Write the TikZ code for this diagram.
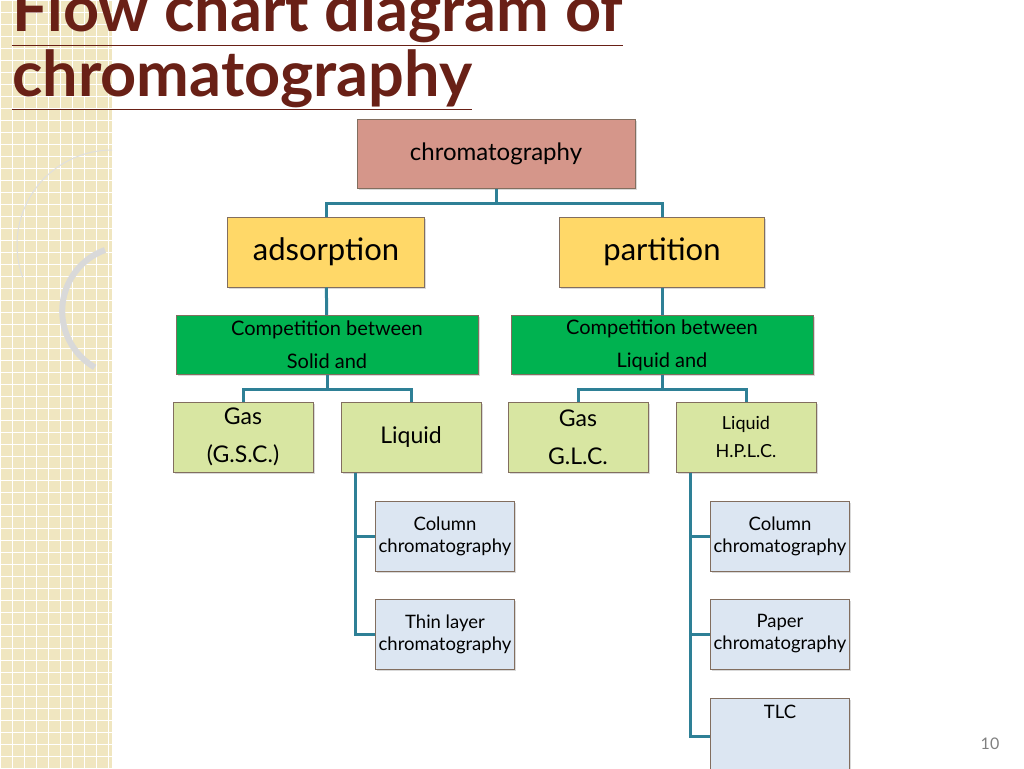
\documentclass[tikz,border=0pt]{standalone}
\usepackage{fontspec}
\setmainfont{Lato}
\usepackage{xcolor}
\definecolor{TitleRed}{RGB}{105, 32, 22}
\definecolor{RootPink}{RGB}{213, 150, 138}
\definecolor{TypeGold}{RGB}{255, 216, 104}
\definecolor{CompGreen}{RGB}{0, 178, 80}
\definecolor{PhaseLime}{RGB}{216, 230, 162}
\definecolor{MethodBlue}{RGB}{220, 230, 242}
\definecolor{LinkTeal}{RGB}{46, 128, 150}
\definecolor{StripBeige}{RGB}{240, 230, 192}
\definecolor{EdgeBrown}{RGB}{130, 110, 95}
\usetikzlibrary{positioning, shadows, calc}

\begin{document}
\begin{tikzpicture}[
        x=1pt, y=-1pt,
        box/.style={rectangle, draw=EdgeBrown, line width=1pt, inner sep=2pt, align=center, font=\fontsize{24}{30}\selectfont, drop shadow={shadow xshift=1.5pt, shadow yshift=-1.5pt, opacity=0.3}},
        link/.style={LinkTeal, line width=3pt}
    ]
        % Page and strip
        \useasboundingbox (0,0) rectangle (1024,768);
        \fill[StripBeige] (0,0) rectangle (112,768);
        \foreach \k in {0,12,...,768} {
            \draw[white, line width=0.6pt] (0,\k) -- (112,\k);
        }
        \foreach \k in {0,12,...,108} {
            \draw[white, line width=0.6pt] (\k,0) -- (\k,768);
        }
        \draw[gray!30, line width=6pt] (105,250) arc[start angle=250, end angle=120, radius=65];
        \draw[gray!25, line width=1pt] (112,150) arc[start angle=270, end angle=160, radius=95];

        % Title
        \node[anchor=base west, text=TitleRed, font=\fontsize{63}{70}\selectfont\bfseries, inner sep=0pt] (title1) at (12,32) {\underline{Flow chart diagram of}};
        \node[anchor=base west, text=TitleRed, font=\fontsize{63}{70}\selectfont\bfseries, inner sep=0pt] (title2) at (12,96) {\underline{chromatography}};

        % Nodes
        \node[box, fill=RootPink, minimum width=278pt, minimum height=69pt] (root) at (496,154) {chromatography};
        \node[box, fill=TypeGold, minimum width=197pt, minimum height=70pt, font=\fontsize{31}{36}\selectfont] (ads) at (326,252) {adsorption};
        \node[box, fill=TypeGold, minimum width=205pt, minimum height=70pt, font=\fontsize{31}{36}\selectfont] (part) at (662,252) {partition};
        \node[box, fill=CompGreen, minimum width=302pt, minimum height=59pt, font=\fontsize{20}{33}\selectfont] (compS) at (327,345) {Competition between\\Solid and};
        \node[box, fill=CompGreen, minimum width=302pt, minimum height=59pt, font=\fontsize{20}{33}\selectfont] (compL) at (662,345) {Competition between\\Liquid and};
        \node[box, fill=PhaseLime, minimum width=140pt, minimum height=70pt, font=\fontsize{23}{38}\selectfont] (gsc) at (243,437) {Gas\\(G.S.C.)};
        \node[box, fill=PhaseLime, minimum width=140pt, minimum height=70pt, font=\fontsize{23}{28}\selectfont] (liqS) at (411,437) {Liquid};
        \node[box, fill=PhaseLime, minimum width=140pt, minimum height=70pt, font=\fontsize{23}{38}\selectfont] (glc) at (578,437) {Gas\\G.L.C.};
        \node[box, fill=PhaseLime, minimum width=140pt, minimum height=70pt, font=\fontsize{18}{28}\selectfont] (hplc) at (746,437) {Liquid\\H.P.L.C.};
        \node[box, fill=MethodBlue, minimum width=139pt, minimum height=70pt, font=\fontsize{18.5}{22}\selectfont] (colS) at (445,536) {Column\\chromatography};
        \node[box, fill=MethodBlue, minimum width=139pt, minimum height=70pt, font=\fontsize{18.5}{22}\selectfont] (thin) at (445,634) {Thin layer\\chromatography};
        \node[box, fill=MethodBlue, minimum width=139pt, minimum height=70pt, font=\fontsize{18.5}{22}\selectfont] (colL) at (780,536) {Column\\chromatography};
        \node[box, fill=MethodBlue, minimum width=139pt, minimum height=70pt, font=\fontsize{18.5}{22}\selectfont] (paper) at (780,634) {Paper\\chromatography};
        \node[box, fill=MethodBlue, minimum width=139pt, minimum height=76pt, font=\fontsize{18.5}{22}\selectfont, anchor=north] (tlc) at (780,698) {TLC\\[28pt]};
        \node[text=gray, font=\fontsize{16}{18}\selectfont] (pageno) at (990,744) {10};

        % Connectors
        \draw[link] (root.south) -- ++(0,14) -| (ads.north);
        \draw[link] (root.south) -- ++(0,14) -| (part.north);
        \draw[link] (ads) -- (compS);
        \draw[link] (part) -- (compL);
        \draw[link] (compS.south) -- ++(0,14) -| (gsc.north);
        \draw[link] (compS.south) -- ++(0,14) -| (liqS.north);
        \draw[link] (compL.south) -- ++(0,14) -| (glc.north);
        \draw[link] (compL.south) -- ++(0,14) -| (hplc.north);
        \draw[link] (liqS.south west) ++(15,0) |- (colS.west);
        \draw[link] (liqS.south west) ++(15,0) |- (thin.west);
        \draw[link] (hplc.south west) ++(15,0) |- (colL.west);
        \draw[link] (hplc.south west) ++(15,0) |- (paper.west);
        \draw[link] (hplc.south west) ++(15,0) |- (tlc.west);
    \end{tikzpicture}
\end{document}
